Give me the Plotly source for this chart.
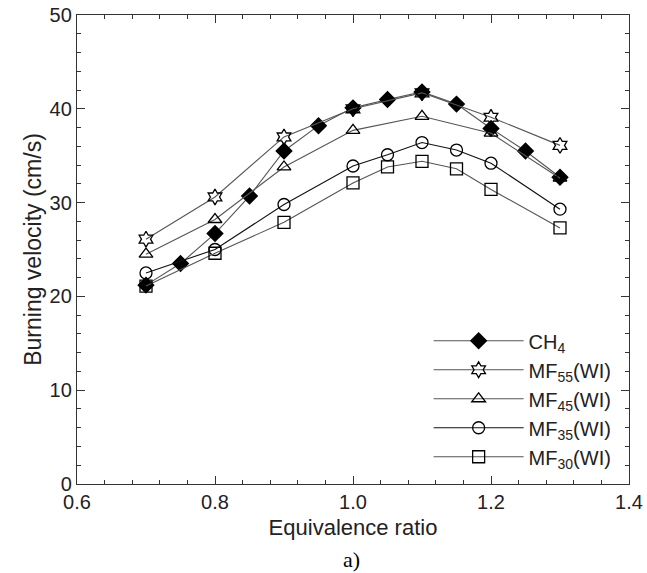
import plotly.graph_objects as go

# equivalence ratio values
phi_ch4 = [0.7, 0.75, 0.8, 0.85, 0.9, 0.95, 1.0, 1.05, 1.1, 1.15, 1.2, 1.25, 1.3]
su_ch4 = [21.2, 23.5, 26.7, 30.7, 35.5, 38.2, 40.1, 41.0, 41.8, 40.5, 37.9, 35.5, 32.7]

phi_mf55 = [0.7, 0.8, 0.9, 1.0, 1.1, 1.2, 1.3]
su_mf55 = [26.1, 30.6, 37.0, 40.0, 41.7, 39.1, 36.1]

phi_mf45 = [0.7, 0.8, 0.9, 1.0, 1.1, 1.2, 1.3]
su_mf45 = [24.5, 28.2, 33.8, 37.7, 39.2, 37.4, 32.6]

phi_mf35 = [0.7, 0.8, 0.9, 1.0, 1.05, 1.1, 1.15, 1.2, 1.3]
su_mf35 = [22.5, 25.0, 29.8, 33.9, 35.1, 36.4, 35.6, 34.2, 29.3]

phi_mf30 = [0.7, 0.8, 0.9, 1.0, 1.05, 1.1, 1.15, 1.2, 1.3]
su_mf30 = [21.1, 24.6, 27.9, 32.1, 33.8, 34.4, 33.6, 31.4, 27.3]

series = [
    ("CH<sub>4</sub>", phi_ch4, su_ch4, "diamond", "black", "#555555"),
    ("MF<sub>55</sub>(WI)", phi_mf55, su_mf55, "hexagram-open", "black", "#555555"),
    ("MF<sub>45</sub>(WI)", phi_mf45, su_mf45, "triangle-up-open", "black", "#555555"),
    ("MF<sub>35</sub>(WI)", phi_mf35, su_mf35, "circle-open", "black", "#111111"),
    ("MF<sub>30</sub>(WI)", phi_mf30, su_mf30, "square-open", "black", "#555555"),
]

fig = go.Figure()
for name, x, y, sym, mcol, lcol in series:
    fig.add_trace(go.Scatter(
        x=x, y=y, name=name, mode="lines+markers",
        line=dict(color=lcol, width=1.1),
        marker=dict(symbol=sym, size=12, color=mcol,
                    line=dict(color="black", width=1.3)),
    ))

axis_common = dict(
    showline=True, linecolor="#333333", linewidth=1.3, mirror="allticks",
    ticks="inside", ticklen=8, tickcolor="#333333", tickwidth=1,
    showgrid=False, zeroline=False, automargin=False,
    ticklabeloverflow="allow",
    tickfont=dict(size=20, color="#222222"),
)

fig.update_xaxes(range=[0.6, 1.4], dtick=0.2, tickformat=".1f",
                 minor=dict(dtick=0.04, ticks="inside", ticklen=4, tickcolor="#333333"),
                 title=dict(text="Equivalence ratio", font=dict(size=22, color="#222222"), standoff=7),
                 **axis_common)
fig.update_yaxes(range=[0, 50], dtick=10,
                 minor=dict(dtick=2, ticks="inside", ticklen=4, tickcolor="#333333"),
                 title=dict(text="Burning velocity (cm/s)", font=dict(size=23, color="#222222"), standoff=1),
                 **axis_common)

fig.add_annotation(text="a)", xref="paper", yref="paper", x=0.498, y=-0.162,
                   yanchor="middle", showarrow=False,
                   font=dict(family="Liberation Serif", size=22, color="black"))

fig.update_layout(
    width=647, height=573,
    margin=dict(l=77, r=18, t=15, b=89),
    paper_bgcolor="white", plot_bgcolor="white",
    font=dict(family="Liberation Sans, Arial, sans-serif", color="#222222"),
    showlegend=True,
    legend=dict(x=0.637, y=0.347, xanchor="left", yanchor="top",
                font=dict(size=20), itemwidth=90, bgcolor="rgba(0,0,0,0)",
                tracegroupgap=0),
)

# drop the default page margin so the figure sits at the window corner
fig.write_html("out.html", config={"displayModeBar": False},
               post_script="document.body.style.margin='0';document.body.style.overflow='hidden';")
